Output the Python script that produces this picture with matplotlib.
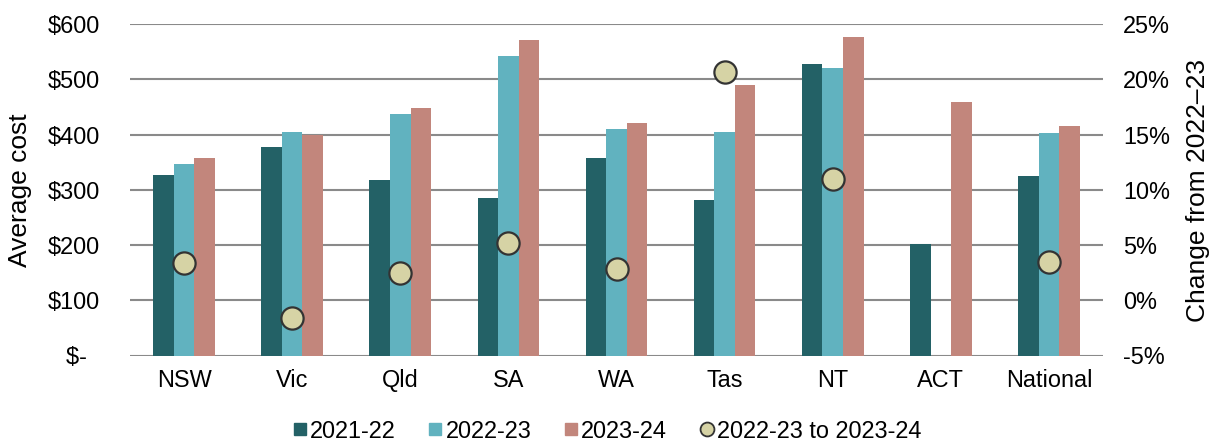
import matplotlib
matplotlib.use("Agg")
import matplotlib.pyplot as plt
from matplotlib.lines import Line2D
import numpy as np

plt.rcParams['font.family'] = ['Liberation Sans', 'DejaVu Sans']

categories = ["NSW", "Vic", "Qld", "SA", "WA", "Tas", "NT", "ACT", "National"]
cost_2021_22 = [326, 378, 317, 285, 358, 281, 527, 202, 324]
cost_2022_23 = [346, 405, 437, 542, 410, 405, 520, np.nan, 402]
cost_2023_24 = [358, 399, 448, 571, 421, 489, 577, 459, 416]
change_pct = [3.35, -1.6, 2.5, 5.15, 2.85, 20.7, 11.0, np.nan, 3.45]

left_ticks = [0, 100, 200, 300, 400, 500, 600]
left_labels = ["$-  ", "$100", "$200", "$300", "$400", "$500", "$600"]
right_ticks = [-5, 0, 5, 10, 15, 20, 25]
right_labels = ["-5%", "0%", "5%", "10%", "15%", "20%", "25%"]

c21 = "#236166"
c22 = "#61B2BF"
c23 = "#C2867C"
cdot = "#D6D3A5"
grid_c = "#8A8A8A"
fs = 16.9
fs_lab = 19

W, H = 1215, 443
fig = plt.figure(figsize=(W / 100, H / 100), dpi=100)
ax = fig.add_axes([130 / W, 1 - 355.5 / H, 973 / W, 331.5 / H])

x = np.arange(len(categories))
w = 0.19
ax.bar(x - w, cost_2021_22, w, color=c21, zorder=3, label="2021-22")
ax.bar(x, cost_2022_23, w, color=c22, zorder=3, label="2022-23")
ax.bar(x + w, cost_2023_24, w, color=c23, zorder=3, label="2023-24")

ax.set_xlim(-0.5, len(categories) - 0.5)
ax.set_ylim(0, 600)
ax.set_yticks(left_ticks)
ax.set_yticklabels(left_labels)
ax.set_xticks(x)
ax.set_xticklabels(categories)
for y in left_ticks:
    ax.axhline(y, color=grid_c, lw=1.5, zorder=1)
for s in ax.spines.values():
    s.set_visible(False)
ax.tick_params(axis='y', length=0, pad=21.5, labelsize=fs)
ax.tick_params(axis='x', length=0, pad=10, labelsize=fs)

ax2 = ax.twinx()
ax2.set_ylim(-5, 25)
ax2.set_yticks(right_ticks)
ax2.set_yticklabels(right_labels)
for s in ax2.spines.values():
    s.set_visible(False)
ax2.tick_params(axis='y', length=0, pad=14.4, labelsize=fs)
ax2.plot(x, change_pct, linestyle="none", marker="o", markersize=16,
         markerfacecolor=cdot, markeredgecolor="#333333", markeredgewidth=1.6,
         zorder=5)

# axis titles
fig.text(20 / W, 1 - 190 / H, "Average cost", rotation=90, ha="center",
         va="center", fontsize=fs_lab)
fig.text(1198 / W, 1 - 190.5 / H, "Change from 2022\u201323", rotation=90,
         ha="center", va="center", fontsize=fs_lab)

handles = [
    Line2D([], [], linestyle="none", marker="s", markersize=8.6, color=c21),
    Line2D([], [], linestyle="none", marker="s", markersize=8.6, color=c22),
    Line2D([], [], linestyle="none", marker="s", markersize=8.6, color=c23),
    Line2D([], [], linestyle="none", marker="o", markersize=10,
           markerfacecolor=cdot, markeredgecolor="#333333", markeredgewidth=1.3),
]
labels = ["2021-22", "2022-23", "2023-24", "2022-23 to 2023-24"]
fig.legend(handles, labels, loc="center", bbox_to_anchor=(0.5, 1 - 431 / H),
           ncol=4, frameon=False, fontsize=fs, handlelength=0.55,
           handletextpad=0.15, columnspacing=1.43, borderaxespad=0,
           borderpad=0)

fig.savefig("out.png", dpi=100)
